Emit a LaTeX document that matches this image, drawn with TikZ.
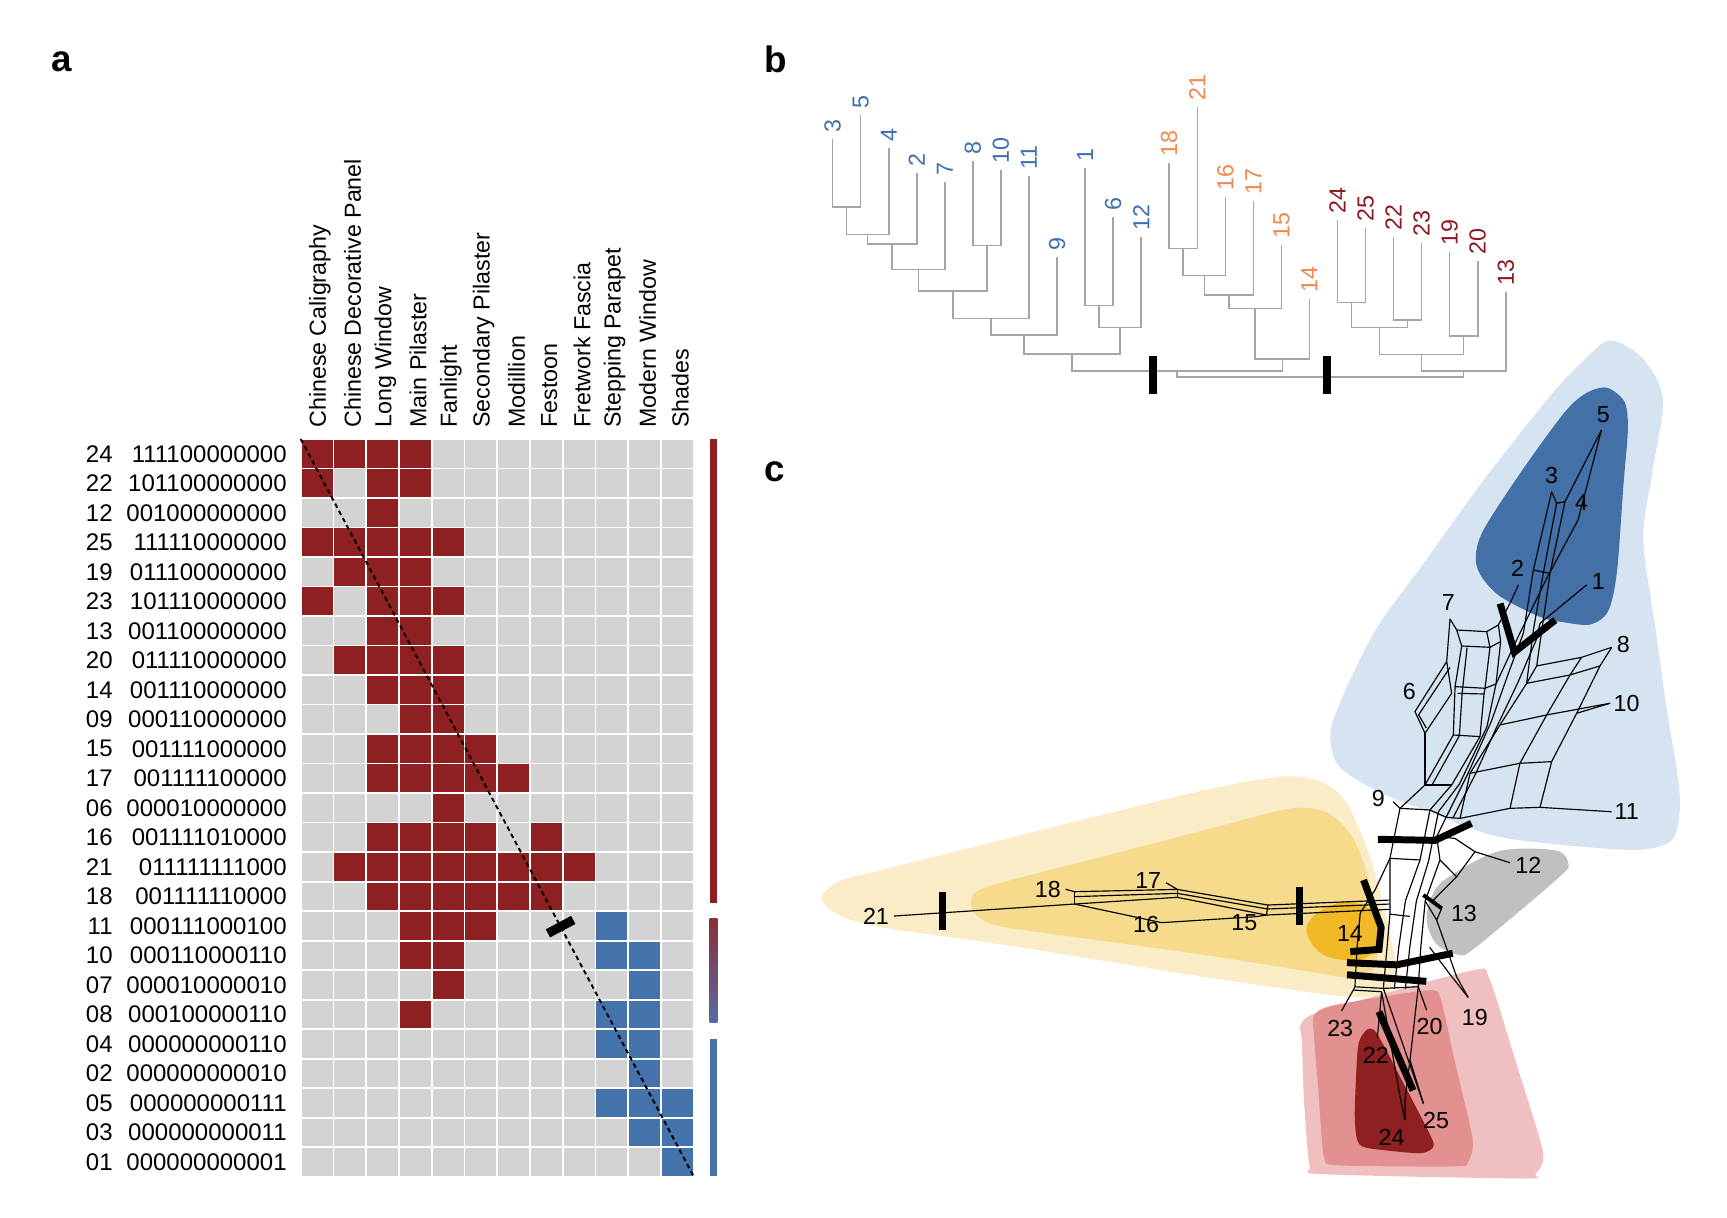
\documentclass[tikz,border=0pt]{standalone}
\usepackage{fontspec}
\setmainfont{Liberation Sans}
\usetikzlibrary{calc}

\definecolor{cellred}{RGB}{142,32,34}
\definecolor{cellblue}{RGB}{68,114,170}
\definecolor{cellgray}{RGB}{211,211,211}
\definecolor{gradtop}{RGB}{140,45,55}
\definecolor{gradbot}{RGB}{85,108,165}
\definecolor{treegray}{RGB}{165,165,165}
\definecolor{treeblue}{RGB}{62,110,178}
\definecolor{treeorange}{RGB}{242,135,78}
\definecolor{treered}{RGB}{138,24,30}
\definecolor{hullblue}{RGB}{213,228,240}
\definecolor{hulldeep}{RGB}{68,112,168}
\definecolor{hullsand}{RGB}{251,236,200}
\definecolor{hullgold}{RGB}{246,219,140}
\definecolor{hullamber}{RGB}{241,184,40}
\definecolor{hullgray}{RGB}{192,192,192}
\definecolor{hullpink}{RGB}{240,192,192}
\definecolor{hullrose}{RGB}{226,144,144}

\tikzset{
  lab/.style={font=\fontsize{6}{7}\selectfont, inner sep=0pt},
  rowlab/.style={font=\fontsize{6.2}{7}\selectfont, inner sep=0pt, anchor=east},
  colhead/.style={lab, rotate=90, anchor=west},
  leaflab/.style={lab, rotate=90, anchor=west},
  netlab/.style={lab, inner sep=0.5pt},
  panel/.style={font=\fontsize{9.5}{11}\selectfont\bfseries, inner sep=0pt},
  treeedge/.style={draw=treegray, line width=0.4pt},
  netedge/.style={line width=0.3pt},
  cutbar/.style={line width=1.8pt},
}

% one row of the matrix: row number, id, bits
\makeatletter
\newcommand\bitrow[3]{%
  \node[rowlab] (id#2) at (103,{398.6+26.79*(#1-0.5)}) {#2};
  \node[rowlab] (bits#2) at (261,{398.6+26.79*(#1-0.5)}) {#3};
  \def\bitcol{0}%
  \@tfor\bitval:=#3\do{%
    \pgfmathtruncatemacro\bitcol{\bitcol+1}%
    \ifnum\bitval=1
      \ifnum\bitcol<10 \def\bitshade{cellred}\else\def\bitshade{cellblue}\fi
    \else\def\bitshade{cellgray}\fi
    \fill[\bitshade] ({273+29.75*(\bitcol-1)+0.8},{398.6+26.79*(#1-1)+0.8}) rectangle ++(28.15,25.19);
  }%
}
\makeatother

\begin{document}
\begin{tikzpicture}[x=0.01cm, y=-0.01cm]
  \useasboundingbox (0,0) rectangle (1568,1105);

  % panel letters
  \node[panel] (pa) at (55.7,56) {a};
  \node[panel] (pb) at (704,54) {b};
  \node[panel] (pc) at (703,428) {c};

  % a: column heads
  \node[colhead] (h1) at (290.4,389) {Chinese Caligraphy};
  \node[colhead] (h2) at (320.1,389) {Chinese Decorative Panel};
  \node[colhead] (h3) at (349.9,389) {Long Window};
  \node[colhead] (h4) at (379.6,389) {Main Pilaster};
  \node[colhead] (h5) at (409.4,389) {Fanlight};
  \node[colhead] (h6) at (439.1,389) {Secondary Pilaster};
  \node[colhead] (h7) at (468.9,389) {Modillion};
  \node[colhead] (h8) at (498.6,389) {Festoon};
  \node[colhead] (h9) at (528.4,389) {Fretwork Fascia};
  \node[colhead] (h10) at (558.1,389) {Stepping Parapet};
  \node[colhead] (h11) at (587.9,389) {Modern Window};
  \node[colhead] (h12) at (617.6,389) {Shades};

  % a: rows
  \bitrow{1}{24}{111100000000}
  \bitrow{2}{22}{101100000000}
  \bitrow{3}{12}{001000000000}
  \bitrow{4}{25}{111110000000}
  \bitrow{5}{19}{011100000000}
  \bitrow{6}{23}{101110000000}
  \bitrow{7}{13}{001100000000}
  \bitrow{8}{20}{011110000000}
  \bitrow{9}{14}{001110000000}
  \bitrow{10}{09}{000110000000}
  \bitrow{11}{15}{001111000000}
  \bitrow{12}{17}{001111100000}
  \bitrow{13}{06}{000010000000}
  \bitrow{14}{16}{001111010000}
  \bitrow{15}{21}{011111111000}
  \bitrow{16}{18}{001111110000}
  \bitrow{17}{11}{000111000100}
  \bitrow{18}{10}{000110000110}
  \bitrow{19}{07}{000010000010}
  \bitrow{20}{08}{000100000110}
  \bitrow{21}{04}{000000000110}
  \bitrow{22}{02}{000000000010}
  \bitrow{23}{05}{000000000111}
  \bitrow{24}{03}{000000000011}
  \bitrow{25}{01}{000000000001}

  \coordinate (gridtl) at (273,398.6);
  \coordinate (gridbr) at (630,1068.4);
  \draw[line width=0.5pt, dash pattern=on 1.2pt off 0.9pt] (gridtl) -- (gridbr);
  \node[fill=black, minimum width=0.26cm, minimum height=0.083cm, inner sep=0pt, rotate=28] (acut) at ($(gridtl)!0.661!(gridbr)$) {};

  \fill[cellred] (644.4,399) rectangle (651.4,820);
  \shade[top color=gradtop, bottom color=gradbot] (644.4,834) rectangle (651.4,928);
  \fill[cellblue] (644.4,943) rectangle (651.4,1068);

  % b: dendrogram
  \begin{scope}[shift={(756,0)}, x=0.2545cm]
    \coordinate (l3) at (0,126.5);
    \coordinate (l5) at (1,104.4);
    \coordinate (l4) at (2,134.7);
    \coordinate (l2) at (3,157.4);
    \coordinate (l7) at (4,165);
    \coordinate (l8) at (5,145.9);
    \coordinate (l10) at (6,154.4);
    \coordinate (l11) at (7,159.8);
    \coordinate (l9) at (8,233);
    \coordinate (l1) at (9,152.2);
    \coordinate (l6) at (10,196.7);
    \coordinate (l12) at (11,214.9);
    \coordinate (l18) at (12,148.3);
    \coordinate (l21) at (13,96.9);
    \coordinate (l16) at (14,179.2);
    \coordinate (l17) at (15,182.5);
    \coordinate (l15) at (16,222.5);
    \coordinate (l14) at (17,271.8);
    \coordinate (l24) at (18,199.8);
    \coordinate (l25) at (19,206.7);
    \coordinate (l22) at (20,214.9);
    \coordinate (l23) at (21,221);
    \coordinate (l19) at (22,228.5);
    \coordinate (l20) at (23,237);
    \coordinate (l13) at (24,265.4);

    \coordinate (j35) at (0.5,187.7);
    \coordinate (j4) at (1.25,212.8);
    \coordinate (j2) at (2.125,221.5);
    \coordinate (j7) at (3.0625,244.6);
    \coordinate (j810) at (5.5,222.8);
    \coordinate (jq) at (4.28125,264.2);
    \coordinate (j11) at (5.640625,289);
    \coordinate (j9) at (6.8203125,304.2);
    \coordinate (j16) at (9.5,277.5);
    \coordinate (j12) at (10.25,297.2);
    \coordinate (jblue) at (8.53515625,321.4);
    \coordinate (j1821) at (12.5,225.5);
    \coordinate (jo16) at (13.25,250);
    \coordinate (jo17) at (14.125,267.6);
    \coordinate (jo15) at (15.0625,280);
    \coordinate (jo14) at (16.03125,325.7);
    \coordinate (jbo) at (12.283,336.9);
    \coordinate (j2425) at (18.5,274.8);
    \coordinate (j2223) at (20.5,290.6);
    \coordinate (jr4) at (19.5,297.5);
    \coordinate (j1920) at (22.5,305.1);
    \coordinate (jr6) at (21,321.7);
    \coordinate (jred) at (22.5,336.9);
    \coordinate (jroot) at (17.3915,342.3);

    \draw[treeedge] (l3) |- (j35) -| (l5);
    \draw[treeedge] (j35) |- (j4) -| (l4);
    \draw[treeedge] (j4) |- (j2) -| (l2);
    \draw[treeedge] (j2) |- (j7) -| (l7);
    \draw[treeedge] (l8) |- (j810) -| (l10);
    \draw[treeedge] (j7) |- (jq) -| (j810);
    \draw[treeedge] (jq) |- (j11) -| (l11);
    \draw[treeedge] (j11) |- (j9) -| (l9);
    \draw[treeedge] (l1) |- (j16) -| (l6);
    \draw[treeedge] (j16) |- (j12) -| (l12);
    \draw[treeedge] (j9) |- (jblue) -| (j12);
    \draw[treeedge] (l18) |- (j1821) -| (l21);
    \draw[treeedge] (j1821) |- (jo16) -| (l16);
    \draw[treeedge] (jo16) |- (jo17) -| (l17);
    \draw[treeedge] (jo17) |- (jo15) -| (l15);
    \draw[treeedge] (jo15) |- (jo14) -| (l14);
    \draw[treeedge] (jblue) |- (jbo) -| (jo14);
    \draw[treeedge] (l24) |- (j2425) -| (l25);
    \draw[treeedge] (l22) |- (j2223) -| (l23);
    \draw[treeedge] (j2425) |- (jr4) -| (j2223);
    \draw[treeedge] (l19) |- (j1920) -| (l20);
    \draw[treeedge] (jr4) |- (jr6) -| (j1920);
    \draw[treeedge] (jr6) |- (jred) -| (l13);
    \draw[treeedge] (jbo) |- (jroot) -| (jred);

    \draw[line width=2pt] (11.42,323) -- (11.42,357.7);
    \draw[line width=2pt] (17.63,323) -- (17.63,357.7);

    \node[leaflab, text=treeblue] (t3) at ([yshift=1.5pt]l3) {3};
    \node[leaflab, text=treeblue] (t5) at ([yshift=1.5pt]l5) {5};
    \node[leaflab, text=treeblue] (t4) at ([yshift=1.5pt]l4) {4};
    \node[leaflab, text=treeblue] (t2) at ([yshift=1.5pt]l2) {2};
    \node[leaflab, text=treeblue] (t7) at ([yshift=1.5pt]l7) {7};
    \node[leaflab, text=treeblue] (t8) at ([yshift=1.5pt]l8) {8};
    \node[leaflab, text=treeblue] (t10) at ([yshift=1.5pt]l10) {10};
    \node[leaflab, text=treeblue] (t11) at ([yshift=1.5pt]l11) {11};
    \node[leaflab, text=treeblue] (t9) at ([yshift=1.5pt]l9) {9};
    \node[leaflab, text=treeblue] (t1) at ([yshift=1.5pt]l1) {1};
    \node[leaflab, text=treeblue] (t6) at ([yshift=1.5pt]l6) {6};
    \node[leaflab, text=treeblue] (t12) at ([yshift=1.5pt]l12) {12};
    \node[leaflab, text=treeorange] (t18) at ([yshift=1.5pt]l18) {18};
    \node[leaflab, text=treeorange] (t21) at ([yshift=1.5pt]l21) {21};
    \node[leaflab, text=treeorange] (t16) at ([yshift=1.5pt]l16) {16};
    \node[leaflab, text=treeorange] (t17) at ([yshift=1.5pt]l17) {17};
    \node[leaflab, text=treeorange] (t15) at ([yshift=1.5pt]l15) {15};
    \node[leaflab, text=treeorange] (t14) at ([yshift=1.5pt]l14) {14};
    \node[leaflab, text=treered] (t24) at ([yshift=1.5pt]l24) {24};
    \node[leaflab, text=treered] (t25) at ([yshift=1.5pt]l25) {25};
    \node[leaflab, text=treered] (t22) at ([yshift=1.5pt]l22) {22};
    \node[leaflab, text=treered] (t23) at ([yshift=1.5pt]l23) {23};
    \node[leaflab, text=treered] (t19) at ([yshift=1.5pt]l19) {19};
    \node[leaflab, text=treered] (t20) at ([yshift=1.5pt]l20) {20};
    \node[leaflab, text=treered] (t13) at ([yshift=1.5pt]l13) {13};
  \end{scope}

  % c: hulls
  \fill[hullblue] plot[smooth cycle, tension=0.5] coordinates {(1462,309) (1492,326) (1510,363) (1500,430) (1492,490) (1503,570) (1513,642) (1525,720) (1520,760) (1495,771) (1452,770) (1362,760) (1300,738) (1250,718) (1215,695) (1208,665) (1220,630) (1250,570) (1290,515) (1347,436) (1407,360) (1438,327)};
  \fill[hulldeep] plot[smooth cycle, tension=0.5] coordinates {(1459,352) (1475,365) (1478,390) (1474,440) (1468,520) (1460,555) (1444,567) (1420,565) (1398,560) (1360,540) (1341,515) (1345,485) (1380,430) (1420,375) (1440,357)};
  \fill[hullsand] plot[smooth cycle, tension=0.5] coordinates {(746,815) (762,800) (800,790) (900,765) (1000,740) (1100,716) (1165,705) (1200,710) (1222,728) (1243,775) (1258,830) (1268,880) (1262,900) (1240,905) (1212,904) (1100,888) (1000,872) (900,856) (800,842) (760,830)};
  \fill[hullgold] plot[smooth cycle, tension=0.5] coordinates {(882,817) (897,805) (1000,778) (1100,752) (1172,734) (1205,738) (1228,760) (1243,800) (1252,850) (1247,880) (1228,888) (1200,884) (1100,868) (1000,854) (908,841) (886,830)};
  \fill[hullamber] plot[smooth cycle, tension=0.6] coordinates {(1186,844) (1200,826) (1225,819) (1248,828) (1254,845) (1245,866) (1228,872) (1200,866)};
  \fill[hullgray] plot[smooth cycle, tension=0.5] coordinates {(1297,822) (1310,800) (1360,773) (1412,772) (1424,784) (1415,797) (1340,860) (1325,867) (1305,858) (1296,840)};
  \fill[hullpink] plot[smooth cycle, tension=0.4] coordinates {(1181,930) (1200,918) (1337,881) (1352,888) (1375,960) (1401,1046) (1394,1066) (1385,1070) (1200,1066) (1189,1058) (1184,1000) (1182,945)};
  \fill[hullrose] plot[smooth cycle, tension=0.4] coordinates {(1193,922) (1210,913) (1296,899) (1308,907) (1320,960) (1337,1034) (1333,1055) (1322,1059) (1215,1058) (1202,1050) (1197,990) (1193,940)};
  \fill[cellred] plot[smooth cycle, tension=0.4] coordinates {(1241,935) (1250,938) (1275,985) (1301,1036) (1297,1045) (1285,1047) (1240,1042) (1232,1034) (1230,1010) (1233,950)};

  % c: leaf ends
  \coordinate (p1) at (1440.6,531);
  \coordinate (p2) at (1378.6,531);
  \coordinate (p3) at (1408.8,446.4);
  \coordinate (p4) at (1432.8,472);
  \coordinate (p5) at (1454,390.4);
  \coordinate (p6) at (1284.7,646);
  \coordinate (p7) at (1316.5,562);
  \coordinate (p8) at (1463.3,587.7);
  \coordinate (p9) at (1265,728);
  \coordinate (p10) at (1461.8,638.5);
  \coordinate (p11) at (1463.3,737);
  \coordinate (p12) at (1371,783.3);
  \coordinate (p13) at (1309,824.7);
  \coordinate (p14) at (1235,829);
  \coordinate (p15) at (1139.8,832.3);
  \coordinate (p16) at (1054.7,837.7);
  \coordinate (p17) at (1058.7,801.4);
  \coordinate (p18) at (967.5,807.4);
  \coordinate (p19) at (1333,905.6);
  \coordinate (p20) at (1295.3,917.1);
  \coordinate (p21) at (811.5,831.7);
  \coordinate (p22) at (1250.5,942.8);
  \coordinate (p23) at (1218.1,917.7);
  \coordinate (p24) at (1275.6,1017);
  \coordinate (p25) at (1292.3,1001.8);

  \begin{scope}[netedge]
    % top group
    \draw (p5) -- (1420.9,455.5) -- (1413.3,457) -- (p3);
    \draw (p5) -- (p4) -- (1404.3,525.1) -- (1377,581);
    \draw (p3) -- (1392.2,517.5) -- (1383.1,575);
    \draw (1413.3,457) -- (1401.2,520.6) -- (1392.2,572);
    \draw (1420.9,455.5) -- (1407.3,520.6) -- (1401.2,563);
    \draw (1392.2,517.5) -- (1407.3,520.6);
    \draw (p1) -- (1398.2,566) -- (1395.2,580);
    \draw (p2) -- (1371,547.8) -- (1360.4,567.4);
    % trunk
    \draw (p7) -- (1322.6,572) -- (1349.8,573.5) -- (1360.4,567.4);
    \draw (1327.1,586.5) -- (1352.8,587.7) -- (1362.5,582.5);
    \draw (1322.6,572) -- (1327.1,586.5);
    \draw (1349.8,573.5) -- (1352.8,587.7);
    \draw (1360.4,567.4) -- (1362.5,582.5);
    \draw (p7) -- (1313.5,600.7) -- (p6) -- (1293.8,665.8) -- (1318,629.5) -- (1313.5,600.7);
    \draw (1316.5,606) -- (1288,649) -- (1295,661);
    \draw (1327.1,586.5) -- (1321.1,623.4) -- (1319.5,667.3) -- (1293.8,712.7) -- (1271.1,733.9) -- (p9);
    \draw (1332,588) -- (1327.5,629.5) -- (1325,668) -- (1300,713);
    \draw (1293.8,665.8) -- (1293.8,712.7);
    \draw (1321.1,623.4) -- (1348.3,624.9) -- (1358.3,621);
    \draw (1323.2,629.5) -- (1347.4,630.1);
    \draw (1319.5,667.3) -- (1343.7,668.8);
    \draw (1352.8,587.7) -- (1348.3,624.9) -- (1347.4,630.1) -- (1343.7,668.8) -- (1318,712.7) -- (1298.3,735.4);
    \draw (1362.5,582.5) -- (1358.3,621) -- (1350,660) -- (1325,712) -- (1306,737);
    \draw (1377,581) -- (1358.3,621);
    \draw (1383.1,575) -- (1370,610) -- (1354,655) -- (1333,702) -- (1313,742);
    \draw (1395.2,580) -- (1378,620) -- (1358,662) -- (1340,702) -- (1319,743);
    \draw (1392.2,572) -- (1386.1,620.4);
    \draw (1293.8,712.7) -- (1318,712.7);
    \draw (1271.1,733.9) -- (1298.3,735.4) -- (1313,742);
    % mesh
    \draw (1325.6,743) -- (1334.7,702.1) -- (1361.9,658.2) -- (1386.1,620.4) -- (1395.2,604.6) -- (1401.2,563);
    \draw (1371,733.9) -- (1380,693) -- (1404.3,649.1) -- (1425.5,612.8) -- (1436,596.8);
    \draw (1398.2,733) -- (1408.8,691.5) -- (1431.5,647.6) -- (1452.7,604.6) -- (p8);
    \draw (1395.2,604.6) -- (1436,596.8) -- (p8);
    \draw (1386.1,620.4) -- (1425.5,612.8) -- (1452.7,604.6);
    \draw (1361.9,658.2) -- (1404.3,649.1) -- (p10);
    \draw (1431.5,647.6) -- (p10);
    \draw (1334.7,702.1) -- (1380,693) -- (1408.8,691.5);
    \draw (1325.6,743) -- (1371,733.9) -- (1398.2,733) -- (p11);
    \draw (1313,742) -- (1325.6,743);
    % lower trunk
    \draw (1271.1,733.9) -- (1262,779.3) -- (1248.4,808.1) -- (p14) -- (1232,862) -- (1230.2,895.9) -- (1228.7,898.9) -- (p23);
    \draw (1262,779.3) -- (1262,830) -- (1256,897.4);
    \draw (1298.3,735.4) -- (1289.3,780.8) -- (1276,818) -- (1270,860) -- (1266,898);
    \draw (1306,737) -- (1297,782) -- (1286,818) -- (1280,860) -- (1276,898);
    \draw (1313,742) -- (1304.4,759.6) -- (1307.4,780.8) -- (1294,818) -- (1290,860) -- (1287.7,895.9);
    \draw (1262,779.3) -- (1289.3,780.8);
    \draw (1262,830) -- (1280,832);
    \draw (1228.7,898.9) -- (1254.4,900.4);
    \draw (1230.2,895.9) -- (1256,897.4) -- (1287.7,895.9);
    \draw (1304.4,759.6) -- (1321,761.2) -- (1339.2,773.3) -- (p12);
    \draw (1339.2,773.3) -- (1322.5,796) -- (1307.4,780.8);
    \draw (1322.5,796) -- (1301.4,817.2) -- (p13) -- (1304.4,835.3) -- (1294,818);
    \draw (1304.4,835.3) -- (1322.5,886.8) -- (p19);
    \draw (1298,860) -- (1316,884) -- (p19);
    % red leaves
    \draw (1254.4,900.4) -- (p22);
    \draw (1254.4,900.4) -- (1271.1,995.7) -- (p24);
    \draw (1256,897.4) -- (p25);
    \draw (1287.7,895.9) -- (p20);
    \draw (1287.7,895.9) -- (1280.2,962.5) -- (p25);
    \draw (1280.2,962.5) -- (1275.6,998.8) -- (p24);
    % yellow ladder
    \draw (p18) -- (975.6,809.6) -- (1068.9,807.5) -- (1151.1,821.7) -- (1261.4,817.2);
    \draw (975.6,814.1) -- (1068.9,811.1) -- (1151.1,825.3) -- (1261.4,820.8);
    \draw (p21) -- (975.6,820.8) -- (1068.9,814.7) -- (1149.9,830.8) -- (1261.4,825.6);
    \draw (975.6,809.6) -- (975.6,820.8);
    \draw (1068.9,807.5) -- (1068.9,814.7);
    \draw (1151.1,821.7) -- (1149.9,830.8);
    \draw (p17) -- (1068.9,807.5);
    \draw (975.6,820.8) -- (p16) -- (p15) -- (1149.9,830.8);
  \end{scope}

  % c: cuts
  \draw[cutbar] (856,810) -- (856,844);
  \draw[cutbar] (1180,805) -- (1180,840);
  \draw[cutbar] (1238,799) -- (1254,842) -- (1252,862) -- (1226,864);
  \draw[cutbar] (1223,874) -- (1268,876) -- (1319,865.5);
  \draw[cutbar] (1223,885) -- (1295,891);
  \draw[cutbar] (1251,762) -- (1303,763) -- (1336,747.5);
  \draw[cutbar] (1362,548) -- (1375,592) -- (1412,563);
  \draw[line width=1pt] (1292.3,812.6) -- (1309,824.7);
  \draw[cutbar] (1252,918.5) -- (1283,990);

  % c: labels
  \node[netlab] (c5) at (1455.7,376.8) {5};
  \node[netlab] (c3) at (1408.8,431.3) {3};
  \node[netlab] (c4) at (1436,456.4) {4};
  \node[netlab] (c2) at (1377.9,516) {2};
  \node[netlab] (c1) at (1451.2,528.1) {1};
  \node[netlab] (c7) at (1315,546.9) {7};
  \node[netlab] (c8) at (1473.9,585.6) {8};
  \node[netlab] (c6) at (1279.6,627.4) {6};
  \node[netlab] (c10) at (1476.9,638.6) {10};
  \node[netlab] (c9) at (1251.4,724.8) {9};
  \node[netlab] (c11) at (1476.9,737) {11};
  \node[netlab] (c12) at (1387.6,785.4) {12};
  \node[netlab] (c13) at (1329.2,829.3) {13};
  \node[netlab] (c18) at (951.3,807.5) {18};
  \node[netlab] (c17) at (1042.5,799.6) {17};
  \node[netlab] (c16) at (1040.5,839) {16};
  \node[netlab] (c15) at (1129.7,837.7) {15};
  \node[netlab] (c14) at (1225.7,848) {14};
  \node[netlab] (c21) at (795.3,831.7) {21};
  \node[netlab] (c19) at (1339,924) {19};
  \node[netlab] (c23) at (1216.8,933.7) {23};
  \node[netlab] (c20) at (1297.9,932.2) {20};
  \node[netlab] (c22) at (1249.2,957.9) {22};
  \node[netlab] (c25) at (1303.9,1016.9) {25};
  \node[netlab] (c24) at (1263.4,1032.6) {24};
\end{tikzpicture}
\end{document}
